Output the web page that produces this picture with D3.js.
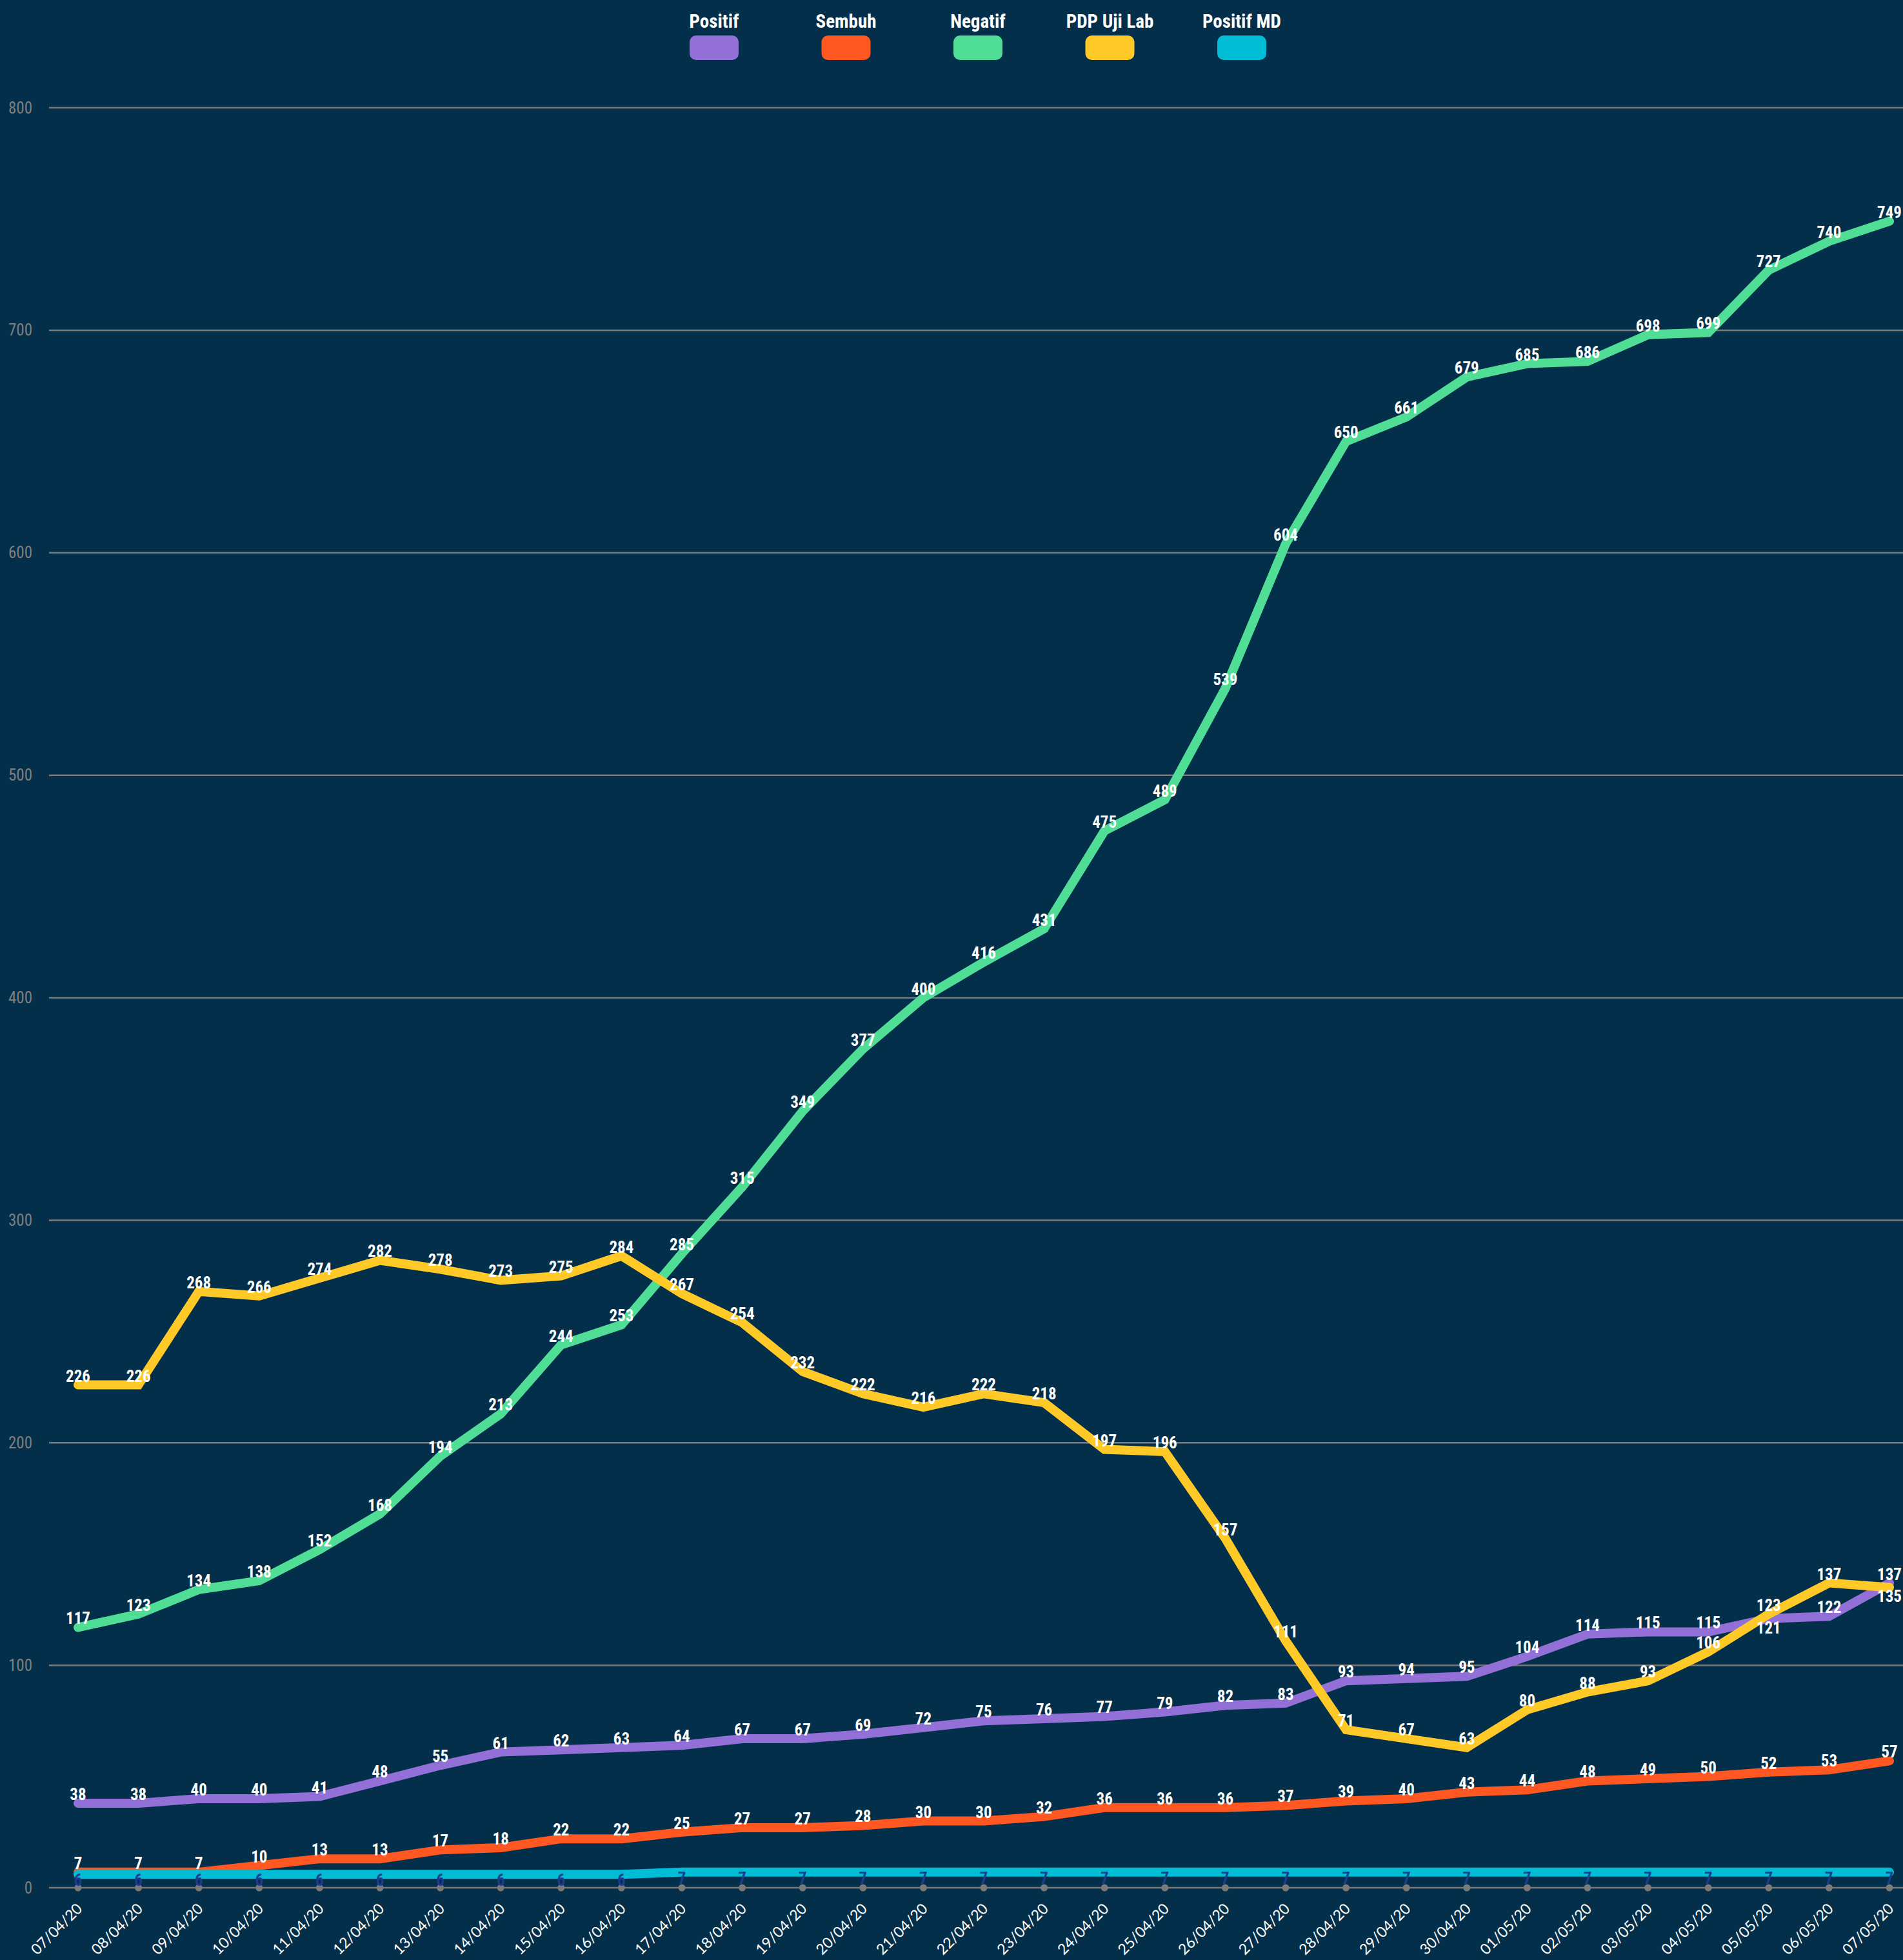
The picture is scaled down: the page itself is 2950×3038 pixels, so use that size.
<!DOCTYPE html>
<html>
<head>
<meta charset="utf-8">
<script src="https://cdnjs.cloudflare.com/ajax/libs/d3/7.8.5/d3.min.js"></script>
<style>
  html, body { margin: 0; padding: 0; background: #042f4a; }
  svg { display: block; }
  .narrow { font-family: "Liberation Sans Narrow", "Arial Narrow", "Roboto Condensed", sans-serif; font-stretch: condensed; }
</style>
</head>
<body>
<svg id="chart" width="2950" height="3038"></svg>
<script>
const dates = ['07/04/20', '08/04/20', '09/04/20', '10/04/20', '11/04/20', '12/04/20', '13/04/20', '14/04/20',
  '15/04/20', '16/04/20', '17/04/20', '18/04/20', '19/04/20', '20/04/20', '21/04/20', '22/04/20', '23/04/20',
  '24/04/20', '25/04/20', '26/04/20', '27/04/20', '28/04/20', '29/04/20', '30/04/20', '01/05/20', '02/05/20',
  '03/05/20', '04/05/20', '05/05/20', '06/05/20', '07/05/20']

const positif = [38, 38, 40, 40, 41, 48, 55, 61, 62, 63, 64, 67, 67, 69, 72, 75, 76, 77, 79, 82, 83, 93, 94, 95, 104, 114, 115, 115, 121, 122, 137]
const sembuh = [7, 7, 7, 10, 13, 13, 17, 18, 22, 22, 25, 27, 27, 28, 30, 30, 32, 36, 36, 36, 37, 39, 40, 43, 44, 48, 49, 50, 52, 53, 57]
const negatif = [117, 123, 134, 138, 152, 168, 194, 213, 244, 253, 285, 315, 349, 377, 400, 416, 431, 475, 489, 539, 604, 650, 661, 679, 685, 686, 698, 699, 727, 740, 749]
const pdpUjiLab = [226, 226, 268, 266, 274, 282, 278, 273, 275, 284, 267, 254, 232, 222, 216, 222, 218, 197, 196, 157, 111, 71, 67, 63, 80, 88, 93, 106, 123, 137, 135]
const positifMD = [6, 6, 6, 6, 6, 6, 6, 6, 6, 6, 7, 7, 7, 7, 7, 7, 7, 7, 7, 7, 7, 7, 7, 7, 7, 7, 7, 7, 7, 7, 7]

const yTicks = [0, 100, 200, 300, 400, 500, 600, 700, 800]

const series = [
  {name: 'Positif', values: positif, color: '#9370d8', labelColor: '#fff', below: [28]},
  {name: 'Sembuh', values: sembuh, color: '#ff5722', labelColor: '#fff', below: []},
  {name: 'Negatif', values: negatif, color: '#50de97', labelColor: '#fff', below: []},
  {name: 'PDP Uji Lab', values: pdpUjiLab, color: '#ffc928', labelColor: '#fff', below: [30]},
  {name: 'Positif MD', values: positifMD, color: '#00bcd4', labelColor: '#1f3b8f', below: 'all'}
]

const svg = d3.select('#chart')
const x = d3.scalePoint().domain(dates).range([121, 2929])
const y = d3.scaleLinear().domain([0, 800]).range([2926, 167])

// gridlines
svg.append('g')
  .selectAll('line')
  .data(yTicks)
  .join('line')
  .attr('x1', 76)
  .attr('x2', 2950)
  .attr('y1', d => y(d))
  .attr('y2', d => y(d))
  .attr('stroke', '#7a7a7a')
  .attr('stroke-width', 2.5)

const yAxis = svg.append('g')
  .attr('transform', 'translate(50,0)')
  .call(d3.axisLeft(y).tickValues(yTicks).tickSize(0).tickPadding(0))
yAxis.select('.domain').remove()
yAxis.selectAll('text')
  .attr('class', 'narrow')
  .attr('fill', '#7f7f7f')
  .style('font-size', '25px')

// tick dots on the zero line
svg.append('g')
  .selectAll('circle')
  .data(dates)
  .join('circle')
  .attr('cx', d => x(d))
  .attr('cy', y(0))
  .attr('r', 5.5)
  .attr('fill', '#7a7a7a')

// x labels
svg.append('g')
  .selectAll('text')
  .data(dates)
  .join('text')
  .attr('transform', d => 'translate(' + (x(d) + 8) + ',2960) rotate(-45)')
  .attr('text-anchor', 'end')
  .attr('fill', '#fff')
  .style('font-family', 'Lato, "Open Sans", sans-serif')
  .style('font-size', '23px')
  .text(d => d)

const line = d3.line()
  .x((d, i) => x(dates[i]))
  .y(d => y(d))

series.forEach(s => {
  svg.append('path')
    .datum(s.values)
    .attr('fill', 'none')
    .attr('stroke', s.color)
    .attr('stroke-width', 14)
    .attr('stroke-linejoin', 'miter')
    .attr('stroke-linecap', 'round')
    .attr('d', line)
})

series.forEach(s => {
  svg.append('g')
    .selectAll('text')
    .data(s.values)
    .join('text')
    .attr('class', 'narrow')
    .attr('x', (d, i) => x(dates[i]))
    .attr('y', (d, i) => {
      const below = s.below === 'all' || s.below.includes(i)
      if (s.below === 'all') return y(d) + 18
      return below ? y(d) + 23 : y(d) - 5
    })
    .attr('text-anchor', 'middle')
    .attr('fill', s.labelColor)
    .style('font-size', '25px')
    .style('font-weight', 'bold')
    .text(d => d)
})

// legend
const legend = svg.append('g')
  .selectAll('g')
  .data(series)
  .join('g')
  .attr('transform', (d, i) => 'translate(' + (1107 + i * 204.5) + ',0)')

legend.append('text')
  .attr('class', 'narrow')
  .attr('y', 43)
  .attr('text-anchor', 'middle')
  .attr('fill', '#fff')
  .style('font-size', '29px')
  .style('font-weight', 'bold')
  .text(d => d.name)

legend.append('rect')
  .attr('x', -38)
  .attr('y', 55)
  .attr('width', 76)
  .attr('height', 38)
  .attr('rx', 10)
  .attr('fill', d => d.color)
</script>
</body>
</html>
